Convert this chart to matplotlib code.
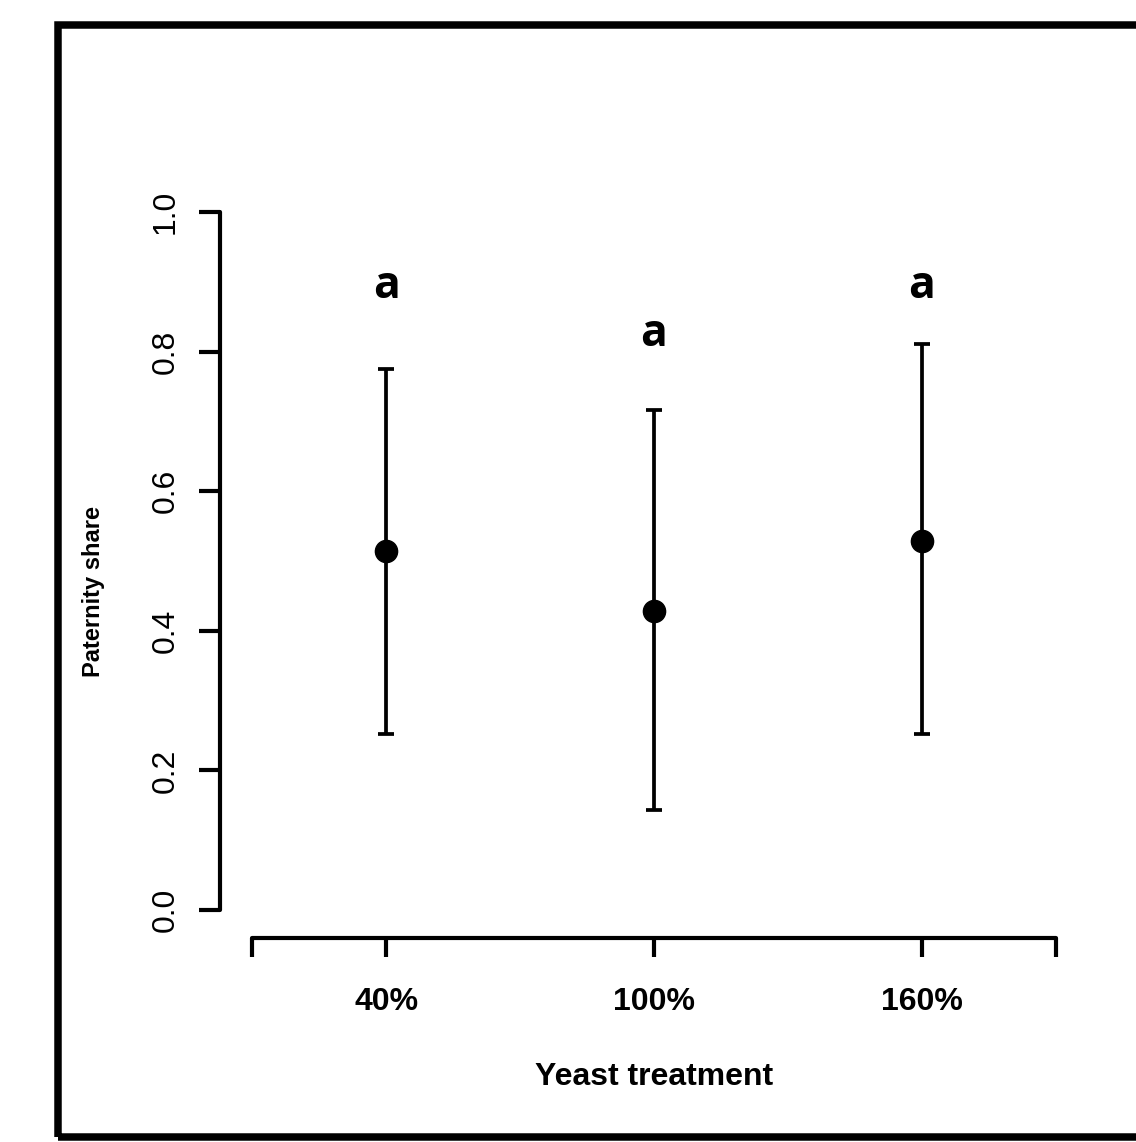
import matplotlib
matplotlib.use("Agg")
import matplotlib.pyplot as plt
from matplotlib.patches import Rectangle

# values
treatments = ["40%", "100%", "160%"]
means = [0.514, 0.428, 0.528]
upper = [0.775, 0.717, 0.811]
lower = [0.252, 0.144, 0.252]
letters = ["a", "a", "a"]
letter_y = [0.893, 0.824, 0.893]

W, H = 1136, 1142
fig = plt.figure(figsize=(W / 100, H / 100), dpi=100)

# outer box (runs off the right edge like the reference)
fig.patches.append(Rectangle((58 / W, 1 - 1136.5 / H), 1.2, (1136.5 - 25) / H,
                             transform=fig.transFigure, fill=False,
                             edgecolor="black", linewidth=5.4))

ax = fig.add_axes([220 / W, 1 - 938 / H, (1088 - 220) / W, (938 - 184) / H])

xs = [1, 2, 3]
err_lo = [m - l for m, l in zip(means, lower)]
err_hi = [u - m for m, u in zip(means, upper)]
ax.errorbar(xs, means, yerr=[err_lo, err_hi], fmt="o", color="black",
            markersize=16, elinewidth=2.7, capsize=6, capthick=2.7)

for x, t, y in zip(xs, letters, letter_y):
    ax.text(x, y, t, ha="center", va="center", fontsize=32,
            fontweight="bold", family="Open Sans")

ax.set_xlim(0.38, 3.62)
ax.set_ylim(-0.04, 1.04)

for s in ("top", "right"):
    ax.spines[s].set_visible(False)
for s in ("left", "bottom"):
    ax.spines[s].set_linewidth(3)
    ax.spines[s].set_capstyle("round")
ax.spines["left"].set_bounds(0, 1)
ax.spines["bottom"].set_bounds(0.5, 3.5)

ax.set_xticks([0.5, 1, 2, 3, 3.5])
ax.set_xticklabels([""] + treatments + [""], fontsize=23,
                   fontweight="bold", family="Liberation Sans")
ax.set_yticks([0, 0.2, 0.4, 0.6, 0.8, 1.0])
ax.set_yticklabels(["0.0", "0.2", "0.4", "0.6", "0.8", "1.0"], fontsize=23,
                   rotation=90, va="center", family="Liberation Sans")
ax.tick_params(axis="x", length=14, width=3, pad=21)
ax.tick_params(axis="y", length=15, width=3, pad=13)

ax.set_xlabel("Yeast treatment", fontsize=23, fontweight="bold",
              family="Liberation Sans", va="center")
ax.xaxis.set_label_coords(0.5, -0.184)
ax.set_ylabel("Paternity share", fontsize=17, fontweight="bold",
              family="Liberation Sans", va="center")
ax.yaxis.set_label_coords(-0.146, 0.46)

fig.savefig("out.png", dpi=100)
